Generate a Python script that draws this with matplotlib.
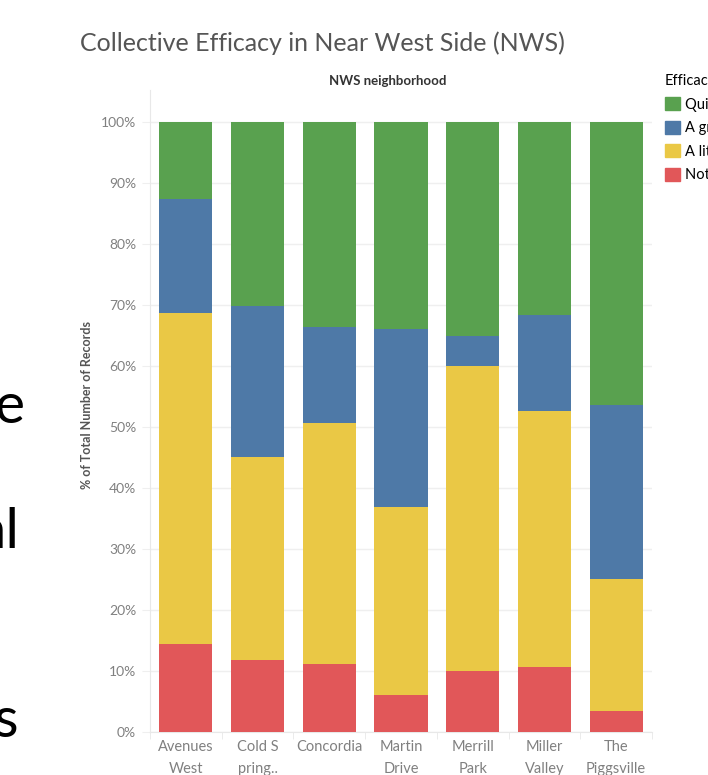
import matplotlib
matplotlib.use("Agg")
import matplotlib.pyplot as plt
import numpy as np
from matplotlib.patches import Patch

neighborhoods = ['Avenues\nWest', 'Cold S\npring..', 'Concordia', 'Martin\nDrive',
                 'Merrill\nPark', 'Miller\nValley', 'The\nPiggsville']
# % of records per efficacy level, bottom to top
none_pct = [14.5, 11.8, 11.2, 6.1, 10.0, 10.6, 3.5]
little_pct = [54.1, 33.3, 39.4, 30.7, 50.0, 42.0, 21.5]
great_pct = [18.8, 24.7, 15.7, 29.2, 4.9, 15.8, 28.6]
quite_pct = [12.6, 30.2, 33.7, 34.0, 35.1, 31.6, 46.4]
efficacy_labels = ['Quite a bit', 'A great deal', 'A little', 'Not at all']

colors = {'quite': '#59a14f', 'great': '#4e79a7', 'little': '#eac845', 'none': '#e15759'}

plt.rcParams['font.family'] = ['Lato', 'DejaVu Sans']

fig = plt.figure(figsize=(7.08, 7.75), dpi=100)
ax = fig.add_axes([150/708, 1 - 732/775, 502/708, (732 - 90)/775])

x = np.arange(len(neighborhoods))
width = 0.74
bottom = np.zeros(len(x))
for vals, key in [(none_pct, 'none'), (little_pct, 'little'),
                  (great_pct, 'great'), (quite_pct, 'quite')]:
    ax.bar(x, vals, width, bottom=bottom, color=colors[key], zorder=3)
    bottom += np.array(vals)

ax.set_xlim(-0.5, len(x) - 0.5)
ax.set_ylim(0, 105.2)
ax.set_yticks(np.arange(0, 101, 10))
ax.set_yticklabels(['{}%'.format(v) for v in range(0, 101, 10)])
ax.set_xticks(x)
ax.set_xticklabels(neighborhoods, linespacing=1.7)
ax.set_xticks(np.arange(-0.5, len(x), 1), minor=True)

ax.grid(axis='y', color='#efefef', linewidth=1, zorder=0)
for s in ['top', 'right']:
    ax.spines[s].set_visible(False)
ax.spines['left'].set_color('#e8e8e8')
ax.spines['bottom'].set_color('#e8e8e8')
ax.tick_params(axis='y', colors='#efefef', labelcolor='#808080', labelsize=10, length=6, pad=4)
ax.tick_params(axis='x', which='major', length=0, labelcolor='#808080', labelsize=10.5, pad=6)
ax.tick_params(axis='x', which='minor', length=5, color='#e8e8e8')

fig.text(80/708, 1 - 43/775, 'Collective Efficacy in Near West Side (NWS)',
         fontsize=18, color='#555555', va='center', ha='left')
fig.text(388/708, 1 - 81/775, 'NWS neighborhood', fontsize=9.5, color='#333333',
         ha='center', va='center', fontweight='bold')
fig.text(87/708, 1 - 405/775, '% of Total Number of Records', rotation=90,
         fontsize=9, color='#555555', ha='center', va='center', fontweight='bold')

handles = [Patch(color=colors[k]) for k in ['quite', 'great', 'little', 'none']]
fig.legend(handles, efficacy_labels, title='Efficacy', loc='upper left',
           bbox_to_anchor=(665/708, 1 - 74/775), frameon=False, fontsize=10.5,
           title_fontsize=10.5, handlelength=1.0, handleheight=1.0, handletextpad=0.4,
           labelspacing=0.62, alignment='left', borderaxespad=0, borderpad=0)

# fragments of slide text cut off at the left edge
fig.text(25/708, 1 - 423/775, 'e', fontsize=41, ha='right', va='baseline')
fig.text(19/708, 1 - 548/775, 'al', fontsize=41, ha='right', va='baseline')
fig.text(18/708, 1 - 737/775, 's', fontsize=41, ha='right', va='baseline')

fig.savefig('out.png', dpi=100)
